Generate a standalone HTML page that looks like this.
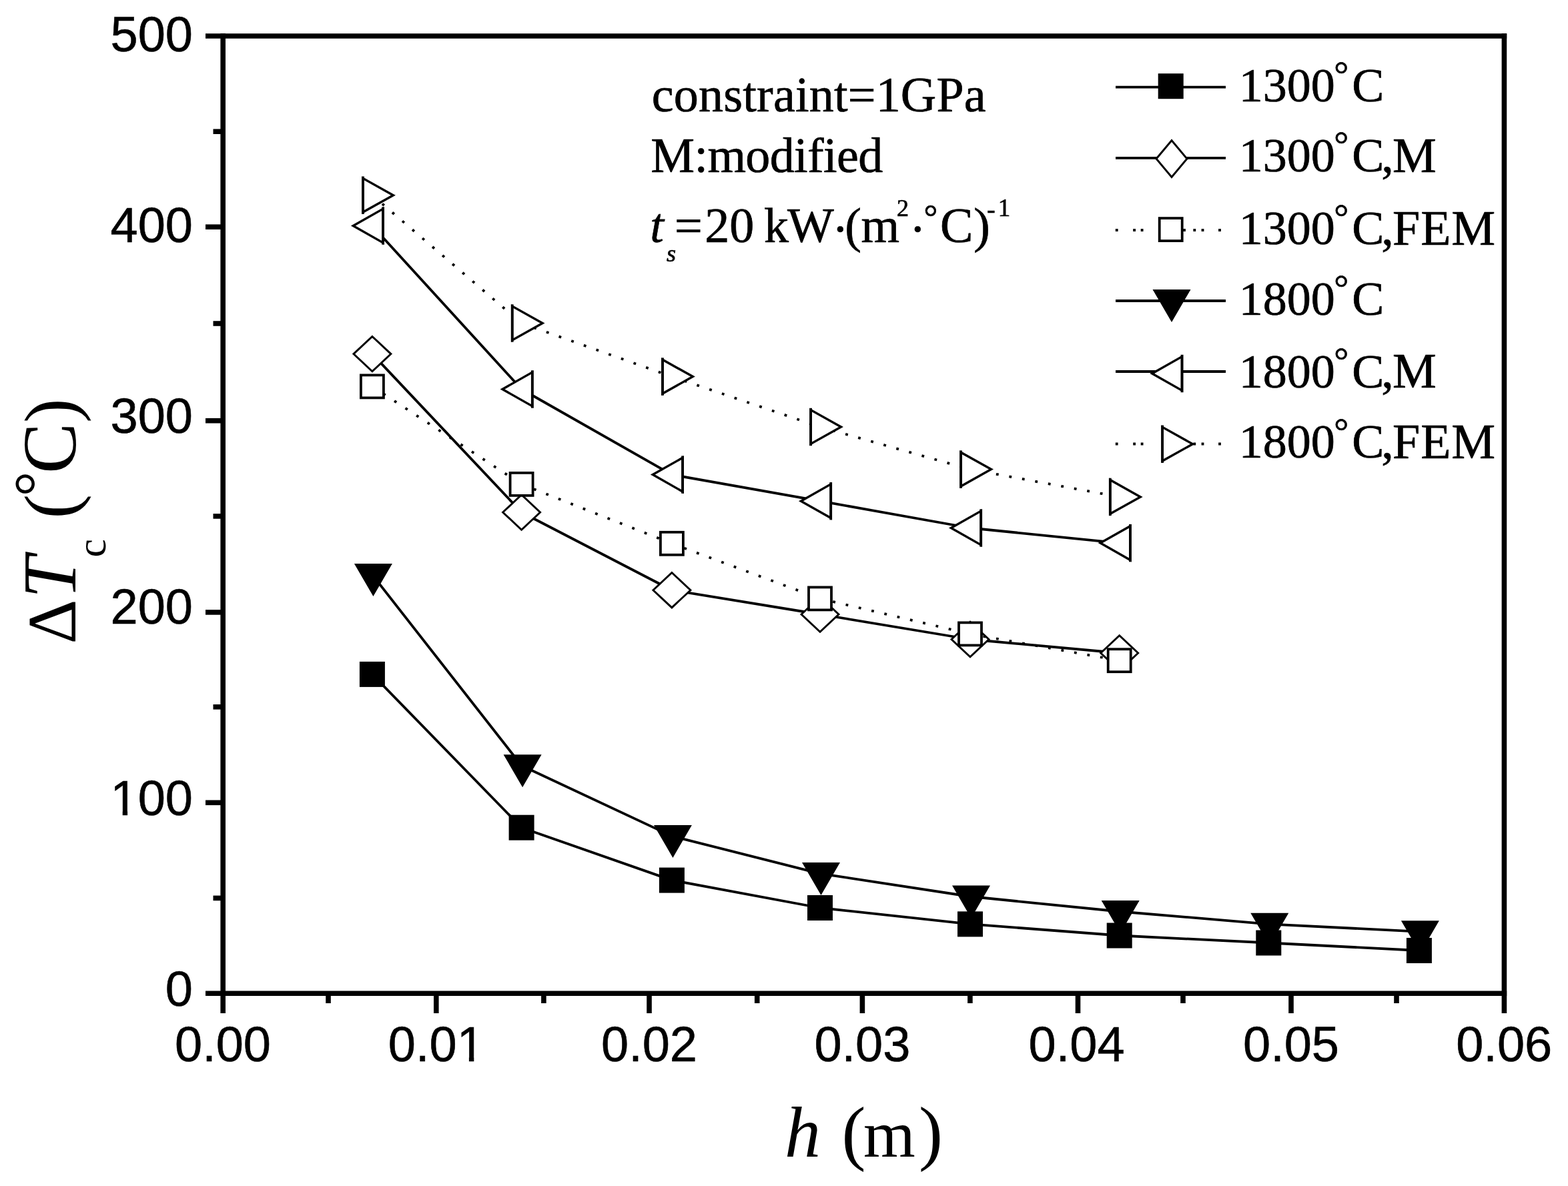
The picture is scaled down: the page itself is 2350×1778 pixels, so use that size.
<!DOCTYPE html>
<html lang="en"><head><meta charset="utf-8"><title>Critical temperature difference versus thickness</title>
<style>
html,body{margin:0;padding:0;background:#fff;}
body{width:2350px;height:1778px;overflow:hidden;}
svg{display:block;}
text{fill:#000;}
.sans{font-family:"Liberation Sans",Arial,sans-serif;font-size:74px;stroke:#000;stroke-width:.6px;}
.serif{font-family:"Liberation Serif","Times New Roman",serif;font-size:74px;stroke:#000;stroke-width:.7px;}
.title{font-family:"Liberation Serif","Times New Roman",serif;font-size:110px;}
.i{font-style:italic;}
.ax{stroke:#000;stroke-width:7.6;fill:none;stroke-linecap:butt;}
.ln{stroke:#000;stroke-width:3.8;fill:none;}
.dt{stroke:#000;stroke-width:3.8;fill:none;stroke-dasharray:3.8 16;}
.mk rect,.mk path{fill:#000;stroke:none;}
.mk .o{fill:#fff;stroke:#000;stroke-width:3.8;}
.mk .d{fill:#fff;stroke:#000;stroke-width:2.9;}
.mk .t{fill:#fff;stroke:#000;stroke-width:3.4;stroke-linejoin:miter;}
.mk .b{fill:none;stroke:#000;stroke-width:3.8;}
</style></head><body>
<svg width="2350" height="1778" viewBox="0 0 2350 1778">
<rect width="2350" height="1778" fill="#fff"/>
<g class="mk">
<line class="ln" stroke-width="2.72" x1="557.9" y1="1010.9" x2="781.6" y2="1240.7"/><line class="ln" stroke-width="3.59" x1="781.6" y1="1240.7" x2="1006.9" y2="1319.6"/><line class="ln" stroke-width="3.74" x1="1006.9" y1="1319.6" x2="1229" y2="1361"/><line class="ln" stroke-width="3.78" x1="1229" y1="1361" x2="1454" y2="1385.4"/><line class="ln" stroke-width="3.79" x1="1454" y1="1385.4" x2="1677.7" y2="1402.5"/><line class="ln" stroke-width="3.80" x1="1677.7" y1="1402.5" x2="1901.3" y2="1413.5"/><line class="ln" stroke-width="3.80" x1="1901.3" y1="1413.5" x2="2126.9" y2="1425"/>
<rect x="538.9" y="991.9" width="38" height="38"/><rect x="762.6" y="1221.7" width="38" height="38"/><rect x="987.9" y="1300.6" width="38" height="38"/><rect x="1210" y="1342" width="38" height="38"/><rect x="1435" y="1366.4" width="38" height="38"/><rect x="1658.7" y="1383.5" width="38" height="38"/><rect x="1882.3" y="1394.5" width="38" height="38"/><rect x="2107.9" y="1406" width="38" height="38"/>
<line class="ln" stroke-width="2.77" x1="557.9" y1="530.6" x2="781.6" y2="768"/><line class="ln" stroke-width="3.37" x1="781.6" y1="768" x2="1006.9" y2="884.7"/><line class="ln" stroke-width="3.75" x1="1006.9" y1="884.7" x2="1229" y2="921"/><line class="ln" stroke-width="3.75" x1="1229" y1="921" x2="1454" y2="958.5"/><line class="ln" stroke-width="3.78" x1="1454" y1="958.5" x2="1677.7" y2="979"/>
<path class="d" d="M529.9 530.6L557.9 504.4L585.9 530.6L557.9 556.8Z"/><path class="d" d="M753.6 768L781.6 741.8L809.6 768L781.6 794.2Z"/><path class="d" d="M978.9 884.7L1006.9 858.5L1034.9 884.7L1006.9 910.9Z"/><path class="d" d="M1201 921L1229 894.8L1257 921L1229 947.2Z"/><path class="d" d="M1426 958.5L1454 932.3L1482 958.5L1454 984.7Z"/><path class="d" d="M1649.7 979L1677.7 952.8L1705.7 979L1677.7 1005.2Z"/>
<line class="dt" x1="557.9" y1="579.4" x2="781.6" y2="725.9"/><line class="dt" x1="781.6" y1="725.9" x2="1006.9" y2="814.8"/><line class="dt" x1="1006.9" y1="814.8" x2="1229" y2="897.4"/><line class="dt" x1="1229" y1="897.4" x2="1454" y2="950.4"/><line class="dt" x1="1454" y1="950.4" x2="1677.7" y2="990.2"/>
<rect class="o" x="540.9" y="562.4" width="34" height="34"/><rect class="o" x="764.6" y="708.9" width="34" height="34"/><rect class="o" x="989.9" y="797.8" width="34" height="34"/><rect class="o" x="1212" y="880.4" width="34" height="34"/><rect class="o" x="1437" y="933.4" width="34" height="34"/><rect class="o" x="1660.7" y="973.2" width="34" height="34"/>
<line class="ln" stroke-width="2.99" x1="557.9" y1="861.6" x2="781.6" y2="1147.7"/><line class="ln" stroke-width="3.44" x1="781.6" y1="1147.7" x2="1006.9" y2="1253.4"/><line class="ln" stroke-width="3.68" x1="1006.9" y1="1253.4" x2="1229" y2="1309.6"/><line class="ln" stroke-width="3.76" x1="1229" y1="1309.6" x2="1454" y2="1344"/><line class="ln" stroke-width="3.78" x1="1454" y1="1344" x2="1677.7" y2="1366.5"/><line class="ln" stroke-width="3.79" x1="1677.7" y1="1366.5" x2="1901.3" y2="1385.3"/><line class="ln" stroke-width="3.80" x1="1901.3" y1="1385.3" x2="2126.9" y2="1396.7"/>
<path d="M530.9 845.1L587.9 845.1L559.4 894.1Z"/><path d="M754.6 1131.2L811.6 1131.2L783.1 1180.2Z"/><path d="M979.9 1236.9L1036.9 1236.9L1008.4 1285.9Z"/><path d="M1202 1293.1L1259 1293.1L1230.5 1342.1Z"/><path d="M1427 1327.5L1484 1327.5L1455.5 1376.5Z"/><path d="M1650.7 1350L1707.7 1350L1679.2 1399Z"/><path d="M1874.3 1368.8L1931.3 1368.8L1902.8 1417.8Z"/><path d="M2099.9 1380.2L2156.9 1380.2L2128.4 1429.2Z"/>
<line class="ln" stroke-width="2.81" x1="557.9" y1="338.5" x2="781.6" y2="583.5"/><line class="ln" stroke-width="3.30" x1="781.6" y1="583.5" x2="1006.9" y2="711.6"/><line class="ln" stroke-width="3.74" x1="1006.9" y1="711.6" x2="1229" y2="751.2"/><line class="ln" stroke-width="3.74" x1="1229" y1="751.2" x2="1454" y2="791.5"/><line class="ln" stroke-width="3.78" x1="1454" y1="791.5" x2="1677.7" y2="814.1"/>
<path class="t" d="M574.1 313.1L574.1 363.9L529.3 338.5Z"/><path class="b" d="M574.1 310.3V366.7"/><path class="t" d="M797.8 558.1L797.8 608.9L753 583.5Z"/><path class="b" d="M797.8 555.3V611.7"/><path class="t" d="M1023.1 686.2L1023.1 737L978.3 711.6Z"/><path class="b" d="M1023.1 683.4V739.8"/><path class="t" d="M1245.2 725.8L1245.2 776.6L1200.4 751.2Z"/><path class="b" d="M1245.2 723V779.4"/><path class="t" d="M1470.2 766.1L1470.2 816.9L1425.4 791.5Z"/><path class="b" d="M1470.2 763.3V819.7"/><path class="t" d="M1693.9 788.7L1693.9 839.5L1649.1 814.1Z"/><path class="b" d="M1693.9 785.9V842.3"/>
<line class="dt" x1="557.9" y1="292.7" x2="781.6" y2="484.5"/><line class="dt" x1="781.6" y1="484.5" x2="1006.9" y2="564.6"/><line class="dt" x1="1006.9" y1="564.6" x2="1229" y2="640"/><line class="dt" x1="1229" y1="640" x2="1454" y2="703.6"/><line class="dt" x1="1454" y1="703.6" x2="1677.7" y2="744.9"/>
<path class="t" d="M544 267.3L544 318.1L589.4 292.7Z"/><path class="b" d="M544 264.5V320.9"/><path class="t" d="M767.7 459.1L767.7 509.9L813.1 484.5Z"/><path class="b" d="M767.7 456.3V512.7"/><path class="t" d="M993 539.2L993 590L1038.4 564.6Z"/><path class="b" d="M993 536.4V592.8"/><path class="t" d="M1215.1 614.6L1215.1 665.4L1260.5 640Z"/><path class="b" d="M1215.1 611.8V668.2"/><path class="t" d="M1440.1 678.2L1440.1 729L1485.5 703.6Z"/><path class="b" d="M1440.1 675.4V731.8"/><path class="t" d="M1663.8 719.5L1663.8 770.3L1709.2 744.9Z"/><path class="b" d="M1663.8 716.7V773.1"/>
</g>
<g class="ax">
<path d="M308 54H2258.2"/>
<path d="M308 1489.2H2258.2"/>
<path d="M334.2 50.2V1519"/>
<path d="M2254.4 50.2V1519"/>
<path d="M653.8 1489.2V1519"/>
<path d="M973 1489.2V1519"/>
<path d="M1292.4 1489.2V1519"/>
<path d="M1615.5 1489.2V1519"/>
<path d="M1935 1489.2V1519"/>
<path d="M492 1489.2V1504"/>
<path d="M814.9 1489.2V1504"/>
<path d="M1134.7 1489.2V1504"/>
<path d="M1453.9 1489.2V1504"/>
<path d="M1773 1489.2V1504"/>
<path d="M2093 1489.2V1504"/>
<path d="M308 340.2H334.2"/>
<path d="M308 630.7H334.2"/>
<path d="M308 917.9H334.2"/>
<path d="M308 1203.3H334.2"/>
<path d="M319.5 197.2H334.2"/>
<path d="M319.5 485H334.2"/>
<path d="M319.5 773.9H334.2"/>
<path d="M319.5 1059.8H334.2"/>
<path d="M319.5 1346.4H334.2"/>
</g>
<g class="sans">
<text x="289" y="76.8" text-anchor="end">500</text>
<text x="289" y="363" text-anchor="end">400</text>
<text x="289" y="648.5" text-anchor="end">300</text>
<text x="289" y="935.2" text-anchor="end">200</text>
<text x="289" y="1222" text-anchor="end">100</text>
<text x="289" y="1508" text-anchor="end">0</text>
<text x="334" y="1591" text-anchor="middle">0.00</text>
<text x="653.8" y="1591" text-anchor="middle">0.01</text>
<text x="973" y="1591" text-anchor="middle">0.02</text>
<text x="1292.4" y="1591" text-anchor="middle">0.03</text>
<text x="1613.6" y="1591" text-anchor="middle">0.04</text>
<text x="1935" y="1591" text-anchor="middle">0.05</text>
<text x="2254.2" y="1591" text-anchor="middle">0.06</text>
</g>
<rect x="688.4" y="1584.6" width="14.5" height="9" fill="#fff"/><rect x="710.3" y="1584.6" width="13.8" height="9" fill="#fff"/>
<rect x="169.2" y="1215.6" width="14.5" height="9" fill="#fff"/><rect x="191.1" y="1215.6" width="13.8" height="9" fill="#fff"/>
<g class="serif">
<text x="976.8" y="166.8" letter-spacing="0.21">constraint=1GPa</text>
<text x="975.3" y="257.7" letter-spacing="-0.63">M:modified</text>
<text><tspan class="i" x="974.2" y="362.6">t</tspan><tspan class="i" font-size="36" x="999" y="392.3">s</tspan><tspan x="1010.9" y="362.6">=</tspan><tspan x="1056.2" y="362.6">20</tspan><tspan x="1130" y="362.6" xml:space="preserve"> </tspan><tspan x="1145" y="362.6" letter-spacing="-2">kW</tspan><tspan x="1247" y="368">·</tspan><tspan x="1266.2" y="362.6">(</tspan><tspan x="1290.5" y="362.6">m</tspan><tspan font-size="36" x="1344" y="324">2</tspan><tspan x="1363" y="368">·</tspan><tspan font-size="52" x="1384.5" y="343.1">°</tspan><tspan x="1409" y="362.6">C</tspan><tspan x="1459.2" y="362.6">)</tspan><tspan font-size="37" x="1479.2" y="327">-</tspan><tspan font-size="37" x="1495.8" y="324">1</tspan></text>
</g>
<g class="mk">
<polyline class="ln" points="1672,130.7 1837,130.7"/>
<rect x="1735.7" y="110.2" width="38" height="38"/>
<polyline class="ln" points="1672,236.8 1837,236.8"/>
<path class="d" d="M1733 238L1756 210.5L1779 238L1756 265.5Z"/>
<polyline class="dt" style="stroke-dasharray:3.8 22.6 3.8 7.7 3.8 59.6 3.8 11.5 3.8 8.4 3.8 21.7 3.8 99" points="1671.8,345 1837,345"/>
<rect class="o" x="1737.7" y="327.1" width="34" height="34"/>
<polyline class="ln" points="1672,451 1837,451"/>
<path d="M1727.5 434.1L1784.5 434.1L1756 483.1Z"/>
<polyline class="ln" points="1672,557 1837,557"/>
<path class="t" d="M1771.5 534.6L1771.5 585.4L1726.7 560Z"/><path class="b" d="M1771.5 531.8V588.2"/>
<polyline class="dt" style="stroke-dasharray:3.8 22.6 3.8 7.7 3.8 59.6 3.8 11.5 3.8 8.4 3.8 21.7 3.8 99" points="1671.8,665.5 1837,665.5"/>
<path class="t" d="M1742.1 640.3L1742.1 691.1L1787.5 665.7Z"/><path class="b" d="M1742.1 637.5V693.9"/>
</g>
<g class="serif">
<text><tspan font-size="72" x="1856.8" y="152">1300</tspan><tspan font-size="55" x="1999.3" y="130.3">°</tspan><tspan font-size="72" x="2026.2" y="152">C</tspan></text>
<text><tspan font-size="72" x="1856.8" y="257">1300</tspan><tspan font-size="55" x="1999.3" y="235.4">°</tspan><tspan font-size="72" x="2026.2" y="257">C</tspan><tspan x="2070.2" y="257.6">,</tspan><tspan x="2087" y="257.6" letter-spacing="0">M</tspan></text>
<text><tspan font-size="72" x="1856.8" y="365.9">1300</tspan><tspan font-size="55" x="1999.3" y="344.2">°</tspan><tspan font-size="72" x="2026.2" y="365.9">C</tspan><tspan x="2070.2" y="366.5">,</tspan><tspan x="2087" y="366.5" letter-spacing="1.0">FEM</tspan></text>
<text><tspan font-size="72" x="1856.8" y="472">1800</tspan><tspan font-size="55" x="1999.3" y="450.4">°</tspan><tspan font-size="72" x="2026.2" y="472">C</tspan></text>
<text><tspan font-size="72" x="1856.8" y="580.5">1800</tspan><tspan font-size="55" x="1999.3" y="558.9">°</tspan><tspan font-size="72" x="2026.2" y="580.5">C</tspan><tspan x="2070.2" y="581.1">,</tspan><tspan x="2087" y="581.1" letter-spacing="0">M</tspan></text>
<text><tspan font-size="72" x="1856.8" y="686.1">1800</tspan><tspan font-size="55" x="1999.3" y="664.5">°</tspan><tspan font-size="72" x="2026.2" y="686.1">C</tspan><tspan x="2070.2" y="686.7">,</tspan><tspan x="2087" y="686.7" letter-spacing="1.0">FEM</tspan></text>
</g>
<g class="title">
<text font-size="108"><tspan class="i" x="1176" y="1734">h</tspan><tspan x="1240" y="1734" xml:space="preserve"> </tspan><tspan x="1261.5" y="1734">(</tspan><tspan font-size="100" x="1294" y="1734">m</tspan><tspan x="1377" y="1734">)</tspan></text>
<text font-size="110" transform="translate(112.5 0) rotate(-90)"><tspan font-size="104" x="-965.5" y="0">Δ</tspan><tspan class="i" font-size="114" x="-897.3" y="0">T</tspan><tspan font-size="62" x="-835.5" y="45">c</tspan><tspan x="-800" y="0" xml:space="preserve"> </tspan><tspan x="-777.6" y="0">(</tspan><tspan font-size="94" x="-744.3" y="-26.5">°</tspan><tspan font-size="114" x="-710" y="0">C</tspan><tspan x="-633.9" y="0">)</tspan></text>
</g>
</svg>
</body></html>
